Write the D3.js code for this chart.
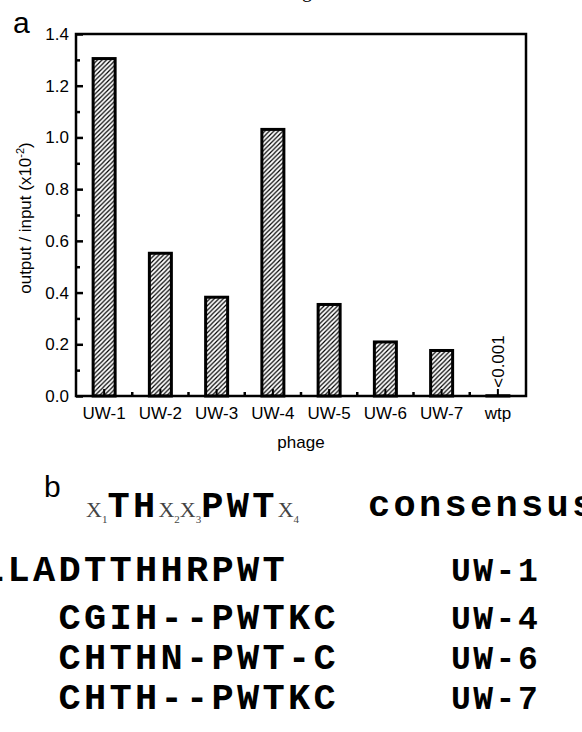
<!DOCTYPE html>
<html lang="en">
<head>
<meta charset="UTF-8">
<title>Phage output / input</title>
<script src="https://d3js.org/d3.v7.min.js"></script>
<style>
  body { margin: 0; background: white; }
  svg { display: block; }
</style>
</head>
<body>
<svg width="582" height="732"></svg>
<script>
// ---- data ----
const phages = ["UW-1", "UW-2", "UW-3", "UW-4", "UW-5", "UW-6", "UW-7", "wtp"];
const ratios = [1.305, 0.552, 0.382, 1.031, 0.354, 0.209, 0.176, 0.001];
const yTicks = [0, 0.2, 0.4, 0.6, 0.8, 1.0, 1.2, 1.4];
const yMinor = [0.1, 0.3, 0.5, 0.7, 0.9, 1.1, 1.3];

// panel b: aligned peptide sequences (shift = leading columns)
const seqs = ["LLADTTHHRPWT", "CGIH--PWTKC", "CHTHN-PWT-C", "CHTH--PWTKC"];
const seqShift = [0, 3, 3, 3];
const seqNames = ["UW-1", "UW-4", "UW-6", "UW-7"];

const svg = d3.select("svg");
const sans = "'Liberation Sans', Arial, sans-serif";
const mono = "'Liberation Mono', 'Courier New', monospace";
const serif = "'Liberation Serif', 'Times New Roman', serif";

// caption fragment cut at the top
svg.append("text")
    .attr("x", 302).attr("y", -3)
    .attr("font-family", serif).attr("font-size", 20)
    .text("g");

// ---- panel a ----
const plotL = 76, plotR = 526, plotT = 34, plotB = 396;

const x = d3.scaleBand().domain(phages).range([plotL, plotR]).padding(0);
const y = d3.scaleLinear().domain([0, 1.4]).range([plotB, plotT]);
const barW = 22;

// hatch pattern
const defs = svg.append("defs");
defs.append("pattern")
    .attr("id", "hatch")
    .attr("patternUnits", "userSpaceOnUse")
    .attr("width", 4.5).attr("height", 4.5)
  .append("path")
    .attr("d", "M-1,1 L1,-1 M0,4.5 L4.5,0 M3.5,5.5 L5.5,3.5")
    .attr("stroke", "black")
    .attr("stroke-width", 1.2);

svg.append("text")
    .attr("x", 13).attr("y", 33)
    .attr("font-family", sans).attr("font-size", 30)
    .text("a");

// bars
svg.append("g")
  .selectAll("rect")
  .data(phages)
  .join("rect")
    .attr("x", d => x(d) + x.bandwidth() / 2 - barW / 2)
    .attr("y", (d, i) => y(ratios[i]))
    .attr("width", barW)
    .attr("height", (d, i) => y(0) - y(ratios[i]))
    .attr("fill", "url(#hatch)")
    .attr("stroke", "black")
    .attr("stroke-width", 3);

// y axis, ticks pointing inward
const yAxis = svg.append("g")
    .attr("transform", `translate(${plotL},0)`)
    .call(d3.axisRight(y).tickValues(yTicks).tickSize(7).tickFormat(d3.format(".1f")));
yAxis.select(".domain").remove();
yAxis.selectAll("line").attr("stroke-width", 2.5);
yAxis.selectAll("text")
    .attr("x", -7).attr("text-anchor", "end")
    .attr("font-family", sans).attr("font-size", 17).attr("fill", "black");

const yMinorAxis = svg.append("g")
    .attr("transform", `translate(${plotL},0)`)
    .call(d3.axisRight(y).tickValues(yMinor).tickSize(4).tickFormat(""));
yMinorAxis.select(".domain").remove();
yMinorAxis.selectAll("line").attr("stroke-width", 2.5);

// x axis: major ticks at centres, minor at band edges, all inward
const xAxis = svg.append("g")
    .attr("transform", `translate(0,${plotB})`)
    .call(d3.axisTop(x).tickSize(7).tickSizeOuter(0));
xAxis.select(".domain").remove();
xAxis.selectAll("line").attr("stroke-width", 2);
xAxis.selectAll("text")
    .attr("y", 23)
    .attr("font-family", sans).attr("font-size", 17).attr("fill", "black");

svg.append("g")
  .selectAll("line")
  .data(phages.slice(1))
  .join("line")
    .attr("x1", d => x(d)).attr("x2", d => x(d))
    .attr("y1", plotB).attr("y2", plotB - 4)
    .attr("stroke", "black").attr("stroke-width", 2.5);

// frame
svg.append("rect")
    .attr("x", plotL).attr("y", plotT)
    .attr("width", plotR - plotL).attr("height", plotB - plotT)
    .attr("fill", "none")
    .attr("stroke", "black")
    .attr("stroke-width", 2.5);

// "<0.001" note above the wtp bar
svg.append("text")
    .attr("transform", `translate(${x("wtp") + x.bandwidth() / 2 + 6},${y(ratios[7]) - 8}) rotate(-90)`)
    .attr("font-family", sans).attr("font-size", 17)
    .text("<0.001");

// axis titles
const yLab = svg.append("text")
    .attr("transform", "translate(31,218) rotate(-90)")
    .attr("text-anchor", "middle")
    .attr("font-family", sans).attr("font-size", 17);
yLab.append("tspan").text("output / input (x10");
yLab.append("tspan").attr("dy", -7).attr("font-size", 11).text("-2");
yLab.append("tspan").attr("dy", 7).text(")");

svg.append("text")
    .attr("x", (plotL + plotR) / 2).attr("y", 448)
    .attr("text-anchor", "middle")
    .attr("font-family", sans).attr("font-size", 17)
    .text("phage");

// ---- panel b ----
svg.append("text")
    .attr("x", 44).attr("y", 497)
    .attr("font-family", sans).attr("font-size", 30)
    .text("b");

// courier-like grid: 25.5px per column, slightly smaller glyphs
const fs = 37, adv = 25.5, ls = adv - fs * 0.6;

const motif = svg.append("text")
    .attr("x", 86).attr("y", 517);
let shift = 0;
const part = (t, opts) => {
  const s = motif.append("tspan").text(t).attr("dy", opts.dy - shift);
  shift = opts.dy;
  if (opts.bold) {
    s.attr("font-family", mono).attr("font-weight", "bold")
     .attr("font-size", fs).attr("letter-spacing", ls);
  } else {
    s.attr("font-family", serif).attr("fill", "#444")
     .attr("font-size", opts.size);
  }
};
const xPart = sub => { part("X", {dy: 0, size: 22}); part(sub, {dy: 6, size: 11}); };
xPart("1"); part("TH", {dy: 0, bold: true});
xPart("2"); xPart("3"); part("PWT", {dy: 0, bold: true});
xPart("4");

svg.append("text")
    .attr("x", 368).attr("y", 516)
    .attr("font-family", mono).attr("font-weight", "bold")
    .attr("font-size", fs).attr("letter-spacing", ls)
    .text("consensus");

const rowY = i => i === 0 ? 581 : 629 + (i - 1) * 40;
const x0 = -18;

svg.append("g")
  .selectAll("text")
  .data(seqs)
  .join("text")
    .attr("x", (d, i) => x0 + seqShift[i] * adv)
    .attr("y", (d, i) => rowY(i))
    .attr("font-family", mono).attr("font-weight", "bold")
    .attr("font-size", fs).attr("letter-spacing", ls)
    .text(d => d);

svg.append("g")
  .selectAll("text")
  .data(seqNames)
  .join("text")
    .attr("x", 451)
    .attr("y", (d, i) => rowY(i))
    .attr("font-family", mono).attr("font-weight", "bold")
    .attr("font-size", 33).attr("letter-spacing", 2.5)
    .text(d => d);
</script>
</body>
</html>
